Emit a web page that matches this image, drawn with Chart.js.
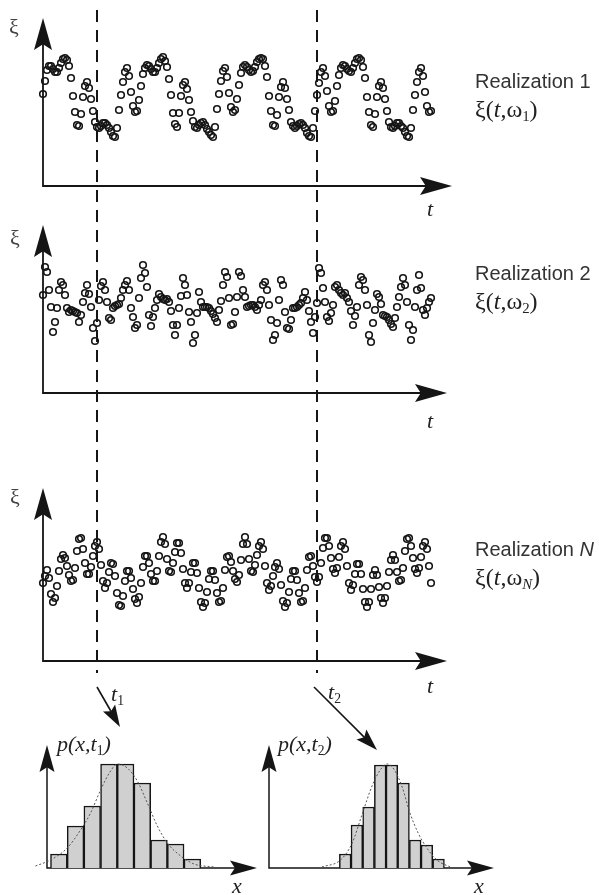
<!DOCTYPE html>
<html>
<head>
<meta charset="utf-8">
<script src="https://cdn.jsdelivr.net/npm/chart.js@4.4.0/dist/chart.umd.min.js"></script>
<style>
  html, body { margin: 0; background: #fff; }
  #page { position: relative; width: 599px; height: 895px; overflow: hidden; background: #fff; }
  #page canvas { position: absolute; }
  .lab { position: absolute; line-height: 1; color: #222; white-space: nowrap;
         font-family: "Liberation Serif", "DejaVu Serif", serif; font-size: 24px; }
  .lab sub { font-size: 0.62em; vertical-align: -0.3em; line-height: 0; font-style: normal; }
  .name { font-family: "Liberation Sans", Arial, sans-serif; font-size: 20px; color: #333; }
  .xi { font-size: 22px; color: #444; }
  .it { font-style: italic; font-size: 22px; }
</style>
</head>
<body>
<div id="page">
  <canvas id="real1" width="599" height="205" style="left:0;top:0"></canvas>
  <canvas id="real2" width="599" height="235" style="left:0;top:205px"></canvas>
  <canvas id="realN" width="599" height="320" style="left:0;top:440px"></canvas>
  <canvas id="hist1" width="300" height="195" style="left:0;top:700px"></canvas>
  <canvas id="hist2" width="339" height="195" style="left:260px;top:700px"></canvas>

  <div class="lab xi" style="left:9px;top:16px">ξ</div>
  <div class="lab xi" style="left:10px;top:227px">ξ</div>
  <div class="lab xi" style="left:10px;top:486px">ξ</div>

  <div class="lab name" style="left:475px;top:71px">Realization 1</div>
  <div class="lab" style="left:475px;top:97px">ξ(<i>t</i>,ω<sub>1</sub>)</div>
  <div class="lab name" style="left:475px;top:263px">Realization 2</div>
  <div class="lab" style="left:475px;top:289px">ξ(<i>t</i>,ω<sub>2</sub>)</div>
  <div class="lab name" style="left:475px;top:539px">Realization <i>N</i></div>
  <div class="lab" style="left:475px;top:565px">ξ(<i>t</i>,ω<sub><i>N</i></sub>)</div>

  <div class="lab it" style="left:427px;top:198px">t</div>
  <div class="lab it" style="left:427px;top:410px">t</div>
  <div class="lab it" style="left:427px;top:675px">t</div>

  <div class="lab it" style="left:111px;top:683px">t<sub>1</sub></div>
  <div class="lab it" style="left:328px;top:681px">t<sub>2</sub></div>
  <div class="lab it" style="left:57px;top:733px">p(x,t<sub>1</sub>)</div>
  <div class="lab it" style="left:278px;top:733px">p(x,t<sub>2</sub>)</div>
  <div class="lab it" style="left:232px;top:875px">x</div>
  <div class="lab it" style="left:474px;top:875px">x</div>
</div>
<script>
const INK = "#151515";

// realizations, one value per time sample (sample index = t)
const xi1 = [
  3, 16, 27, 31, 31, 28, 25, 25, 29, 34, 38,
  39, 37, 31, 19, 1, -15, -28, -29, -17, 0, 11, 15, 9, -2, -14, -25, -30, -31, -29, -26,
  -26, -28, -31, -35, -39, -40, -31, -13, 2, 15, 25, 29, 21, 5, -9, -15, -14, -3, 11, 23,
  29, 32, 31, 28, 25, 25, 29, 34, 38,
  40, 36, 30, 18, 2, -16, -27, -30, -16, 1, 12, 15, 8, -3, -15, -24, -30, -31, -28, -26,
  -25, -28, -32, -35, -38, -40, -30, -12, 3, 16, 26, 29, 20, 4, -10, -15, -13, -2, 12, 24,
  30, 32, 30, 27, 25, 26, 30, 35, 38,
  39, 38, 31, 20, 1, -14, -28, -29, -18, 0, 10, 15, 9, -2, -13, -25, -29, -31, -29, -27,
  -26, -28, -31, -36, -39, -40, -31, -14, 2, 14, 25, 29, 21, 6, -9, -15, -14, -4, 11, 22,
  29, 32, 31, 28, 26, 25, 29, 34, 38,
  39, 37, 30, 19, 0, -15, -28, -30, -17, 0, 11, 15, 9, -2, -14, -25, -30, -31, -29, -26,
  -26, -29, -31, -35, -39, -40, -31, -13, 2, 15, 25, 29, 21, 5, -9, -15, -14
];
const xi2 = [
  10, 38, 33, 15, -2, -27, -17, -3, 15, 23,
  20, 10, -3, -7, -5, -6, -7, -8, -17, -10,
  3, 12, 20, 11, -2, -23, -36, -18, 5, 19,
  23, 15, 3, -13, -15, -3, -1, 0, 1, 7,
  15, 20, 24, 15, -3, -12, -23, -20, 7, 27,
  40, 32, 18, -10, -21, -12, -3, 5, 11, 8,
  6, 5, 6, 3, -6, -20, -30, -20, -3, 9,
  27, 20, 10, -7, -17, -38, -30, -8, 13, 3,
  -2, -2, -2, -3, -6, -9, -13, -17, -5, 4,
  20, 33, 28, 7, -20, -19, -7, 8, 33, 29,
  15, 8, -2, -1, 0, 0, -2, -5, 0, 5,
  20, 23, 15, 0, -15, -35, -30, -18, 5, 25,
  20, -7, -23, -24, -15, -3, -3, -2, 0, 2,
  7, 13, 5, -6, -17, -28, -12, 2, 37, 32,
  17, 3, -12, -16, -8, 0, 18, 20, 15, 12,
  10, 12, 7, 3, -6, -20, -11, -2, 20, 28,
  25, 15, 0, -30, -37, -18, -5, 11, 8, 1,
  -10, -11, -12, -15, -19, -22, -13, -2, 8, 18,
  27, 20, 3, -20, -35, -25, -2, 15, 30, 17,
  -5, -10, -3, 3, 7
];
const xiN = [
  -11, -4, 2, -6, -22, -30, -26, -14, 1, 13,
  17, 14, 6, -3, -9, -8, 4, 21, 33, 34,
  23, 9, -2, -2, 5, 16, 26, 30, 23, 7,
  -9, -16, -11, 0, 9, 8, -4, -21, -33, -34,
  -24, -9, 1, 1, -6, -17, -27, -31, -25, -11,
  5, 16, 16, 9, -2, -9, -9, 1, 16, 30,
  35, 28, 13, 1, 0, 9, 20, 29, 29, 19,
  3, -11, -16, -11, 0, 9, 9, -1, -16, -30,
  -35, -31, -20, -7, 1, 1, -8, -21, -30, -29,
  -16, 2, 15, 16, 10, 1, -7, -10, -3, 12,
  28, 35, 28, 13, 1, 0, 7, 17, 26, 30,
  23, 6, -11, -18, -14, -4, 5, 9, 3, -13,
  -29, -35, -31, -20, -7, 1, 1, -8, -21, -30,
  -29, -16, 2, 15, 16, 6, -5, -10, -5, 9,
  24, 34, 34, 26, 14, 3, -1, 4, 15, 26,
  30, 23, 6, -11, -18, -13, -2, 8, 8, -2,
  -17, -30, -35, -30, -17, -3, 2, -3, -15, -26,
  -31, -26, -14, 0, 12, 17, 12, 0, -9, -8,
  4, 21, 33, 34, 26, 14, 3, -1, 4, 15,
  26, 30, 23, 6, -11
];
const t1 = 27;
const t2 = 137;

// histograms at t1 and t2 (bin centres, counts) and the smooth density drawn over them
const binMid = [-3.5, -2.5, -1.5, -0.5, 0.5, 1.5, 2.5, 3.5, 4.5];
const counts1 = [14, 42, 62, 104, 104, 85, 28, 24, 9];
const counts2 = [14, 43, 61, 103, 103, 85, 28, 23, 9];
const pdfX1 = [-4.9, -4.0, -3.0, -2.2, -1.6, -1.0, -0.4, 0.0, 0.6, 1.2, 1.8, 2.4, 3.0, 3.8, 4.6, 5.8];
const pdfY1 = [2, 8, 20, 38, 55, 78, 97, 104, 100, 87, 65, 42, 25, 12, 4, 1];
const pdfX2 = [-5.5, -3.9, -2.9, -2.1, -1.2, -0.5, 0.1, 0.6, 1.35, 2.05, 2.75, 3.5, 4.35, 5.5];
const pdfY2 = [1, 8, 25, 52, 82, 98, 104, 100, 82, 55, 35, 20, 8, 1];

function head(ctx, x, y, ang, len, half) {
  ctx.save();
  ctx.translate(x, y);
  ctx.rotate(ang);
  ctx.beginPath();
  ctx.moveTo(0, 0);
  ctx.lineTo(-len, -half);
  ctx.lineTo(-len * 0.82, 0);
  ctx.lineTo(-len, half);
  ctx.closePath();
  ctx.fill();
  ctx.restore();
}

// arrow axes, dashed time marks and the t1/t2 pointers
const sketchAxes = {
  id: "sketchAxes",
  beforeDatasetsDraw(chart, args, o) {
    const { ctx, chartArea: a } = chart;
    const xs = chart.scales.x;
    ctx.save();
    ctx.strokeStyle = INK;
    ctx.fillStyle = INK;
    if (o.marks) {
      ctx.lineWidth = 2;
      ctx.setLineDash([12, 8]);
      ctx.lineDashOffset = o.dashPhase;
      o.marks.forEach((t) => {
        const x = xs.getPixelForValue(t);
        ctx.beginPath();
        ctx.moveTo(x, o.dashFrom);
        ctx.lineTo(x, o.dashTo);
        ctx.stroke();
      });
      ctx.setLineDash([]);
    }
    ctx.lineWidth = o.width;
    ctx.beginPath();
    ctx.moveTo(a.left, a.top + o.head * 0.7);
    ctx.lineTo(a.left, a.bottom);
    ctx.lineTo(a.right - o.head * 0.7, a.bottom);
    ctx.stroke();
    head(ctx, a.left, a.top, -Math.PI / 2, o.head, o.half);
    head(ctx, a.right, a.bottom, 0, o.head, o.half);
    (o.pointers || []).forEach((p) => {
      const x0 = xs.getPixelForValue(p.t) + p.dx0;
      const x1 = x0 + p.dx;
      const y1 = p.y0 + p.dy;
      const ang = Math.atan2(p.dy, p.dx);
      ctx.lineWidth = 1.6;
      ctx.beginPath();
      ctx.moveTo(x0, p.y0);
      ctx.lineTo(x1 - Math.cos(ang) * 15, y1 - Math.sin(ang) * 15);
      ctx.stroke();
      head(ctx, x1, y1, ang, 22, 7);
    });
    ctx.restore();
  },
};

function realization(id, values, yMin, yMax, tMax, pad, axes) {
  return new Chart(document.getElementById(id), {
    type: "scatter",
    data: {
      datasets: [
        {
          data: values.map((v, i) => ({ x: i, y: v })),
          pointRadius: 3.3,
          pointHoverRadius: 3.3,
          pointBorderWidth: 1.6,
          pointBorderColor: INK,
          pointBackgroundColor: "rgba(0,0,0,0)",
          clip: false,
        },
      ],
    },
    options: {
      responsive: false,
      animation: false,
      devicePixelRatio: 1,
      events: [],
      layout: { padding: pad },
      plugins: {
        legend: { display: false },
        tooltip: { enabled: false },
        sketchAxes: axes,
      },
      scales: {
        x: { type: "linear", min: 0, max: tMax, display: false },
        y: { min: yMin, max: yMax, display: false },
      },
    },
    plugins: [sketchAxes],
  });
}

const tsAxes = { width: 1.8, head: 32, half: 9, marks: [t1, t2] };

realization("real1", xi1, -89, 79, 204.5,
  { left: 43, right: 147, top: 18, bottom: 19 },
  { ...tsAxes, dashFrom: 10, dashTo: 205, dashPhase: 0 });
realization("real2", xi2, -88, 80, 202,
  { left: 43, right: 152, top: 20, bottom: 47 },
  { ...tsAxes, dashFrom: 0, dashTo: 235, dashPhase: 195 });
realization("realN", xiN, -89, 84, 202,
  { left: 43, right: 152, top: 48, bottom: 99 },
  { ...tsAxes, dashFrom: 0, dashTo: 233, dashPhase: 430,
    pointers: [
      { t: t1, dx0: 0, y0: 247, dx: 23, dy: 40 },
      { t: t2, dx0: -3, y0: 247, dx: 63, dy: 63 },
    ] });

function histogram(id, counts, pdfX, pdfY, xMin, xMax, pad) {
  return new Chart(document.getElementById(id), {
    type: "bar",
    data: {
      datasets: [
        {
          type: "line",
          data: pdfX.map((x, i) => ({ x, y: pdfY[i] })),
          borderColor: "#555",
          borderWidth: 1,
          borderDash: [2, 2],
          pointRadius: 0,
          cubicInterpolationMode: "monotone",
          clip: false,
          order: 0,
        },
        {
          data: binMid.map((x, i) => ({ x, y: counts[i] })),
          backgroundColor: "#d0d0d0",
          borderColor: INK,
          borderWidth: 1.5,
          borderSkipped: "bottom",
          barPercentage: 1,
          categoryPercentage: 1,
          order: 1,
        },
      ],
    },
    options: {
      responsive: false,
      animation: false,
      devicePixelRatio: 1,
      events: [],
      layout: { padding: pad },
      plugins: {
        legend: { display: false },
        tooltip: { enabled: false },
        sketchAxes: { width: 1.5, head: 27, half: 7.5 },
      },
      scales: {
        x: { type: "linear", min: xMin, max: xMax, offset: false, display: false },
        y: { min: 0, max: 123, display: false },
      },
    },
    plugins: [sketchAxes],
  });
}

histogram("hist1", counts1, pdfX1, pdfY1, -4.21, 8.37, { left: 47, right: 43, top: 45, bottom: 27 });
histogram("hist2", counts2, pdfX2, pdfY2, -10.03, 9.25, { left: 9, right: 105, top: 45, bottom: 27 });
</script>
</body>
</html>
